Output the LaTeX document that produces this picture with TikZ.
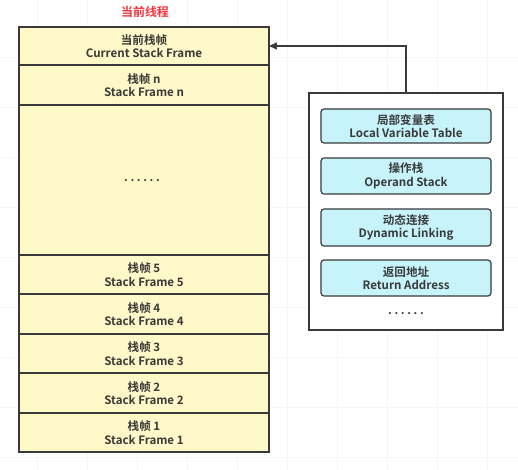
\documentclass[tikz,border=0pt]{standalone}
\usepackage{fontspec}
\setmainfont{Noto Sans CJK SC}[BoldFont={* Bold}]
\usetikzlibrary{arrows.meta}
\definecolor{frameY}{HTML}{FFF8C8}
\definecolor{cellC}{HTML}{C6F4FA}
\definecolor{edgeD}{HTML}{3A3A3A}
\definecolor{titleR}{HTML}{F2343C}
\newcommand{\sixdots}{.\kern2.6bp.\kern2.6bp.\kern2.6bp.\kern2.6bp.\kern2.6bp.}
\tikzset{
  frm/.style={draw=edgeD, line width=1.2pt, fill=frameY},
  lbl/.style={font=\bfseries\fontsize{11.6}{13.5}\selectfont, text=edgeD, align=center},
  cell/.style={draw=edgeD, line width=1.2pt, fill=cellC, rounded corners=3pt},
  outer/.style={draw=edgeD, line width=1.2pt, fill=white},
  link/.style={draw=edgeD, line width=1.2pt, -{Triangle[length=8pt,width=7pt]}},
  gridln/.style={draw=black!4, line width=0.6pt}
}
\begin{document}
\begin{tikzpicture}[x=1bp,y=-1bp]
\useasboundingbox (0,0) rectangle (518,470);
\fill[white] (0,0) rectangle (518,470);
\foreach \gx in {37,87,...,487} \draw[gridln] (\gx,0) -- (\gx,470);
\foreach \gy in {57,107,...,457} \draw[gridln] (0,\gy) -- (518,\gy);
% title
\node[font=\bfseries\fontsize{12}{14}\selectfont, text=titleR] (title) at (145,12) {当前线程};
% stack frames
\draw[frm] (19,27) rectangle (269,65);
\node[lbl] (cur) at (144,46) {当前栈帧\\Current Stack Frame};
\draw[frm] (19,65) rectangle (269,105);
\node[lbl] (fn) at (144,85) {栈帧 n\\Stack Frame n};
\draw[frm] (19,105) rectangle (269,255);
\node[lbl] (dots) at (142,181) {\sixdots};
\draw[frm] (19,255) rectangle (269,294);
\node[lbl] (f5) at (144,274.5) {栈帧 5\\Stack Frame 5};
\draw[frm] (19,294) rectangle (269,334);
\node[lbl] (f4) at (144,314) {栈帧 4\\Stack Frame 4};
\draw[frm] (19,334) rectangle (269,373);
\node[lbl] (f3) at (144,353.5) {栈帧 3\\Stack Frame 3};
\draw[frm] (19,373) rectangle (269,413);
\node[lbl] (f2) at (144,393) {栈帧 2\\Stack Frame 2};
\draw[frm] (19,413) rectangle (269,452);
\node[lbl] (f1) at (144,432.5) {栈帧 1\\Stack Frame 1};
\coordinate (curE) at (269,46);
% right box
\draw[outer] (309,93) rectangle (503,330);
\coordinate (boxTop) at (406,93);
\draw[cell] (321,109) rectangle (491,143);
\node[lbl] (lvt) at (406,126) {局部变量表\\Local Variable Table};
\draw[cell] (321,158) rectangle (491,194);
\node[lbl] (ops) at (406,176) {操作栈\\Operand Stack};
\draw[cell] (321,209) rectangle (491,246);
\node[lbl] (dyn) at (406,227.5) {动态连接\\Dynamic Linking};
\draw[cell] (321,260) rectangle (491,296);
\node[lbl] (ret) at (406,278) {返回地址\\Return Address};
\node[lbl] (rdots) at (406,314) {\sixdots};
% connector
\draw[link] (boxTop) |- (curE);
\end{tikzpicture}
\end{document}
